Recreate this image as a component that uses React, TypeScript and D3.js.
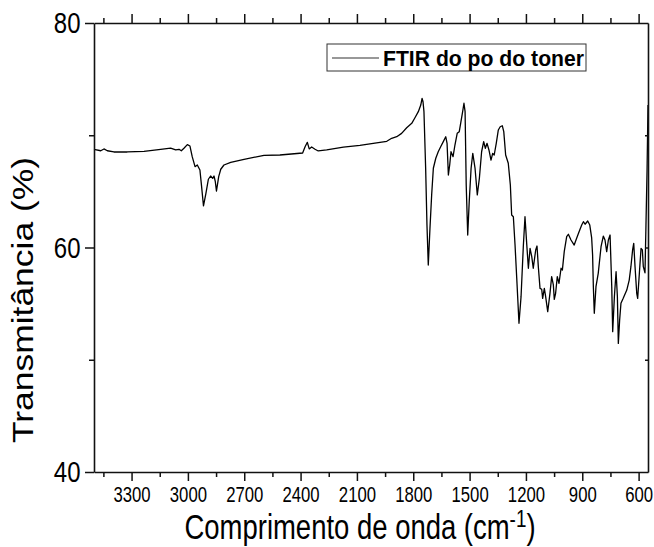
import * as d3 from "d3";
import { useEffect, useRef } from "react";

// wavenumber (cm-1) and transmittance (%)
const wavenumber = [
  3500, 3464, 3447, 3429, 3394, 3323, 3234, 3145, 3092, 3065, 3047, 3035, 3021, 3003, 2989, 2977, 2962, 2950, 2936, 2927,
  2917, 2904, 2891, 2879, 2868, 2861, 2854, 2848, 2836, 2825, 2808, 2772, 2701, 2595, 2510, 2389, 2376, 2364, 2354, 2341,
  2323, 2306, 2261, 2172, 2084, 2013, 1941, 1915, 1888, 1862, 1835, 1808, 1791, 1773, 1760, 1753, 1748, 1743, 1734, 1727,
  1720, 1711, 1702, 1693, 1680, 1667, 1654, 1640, 1627, 1620, 1613, 1606, 1599, 1588, 1578, 1566, 1555, 1546, 1537, 1530,
  1524, 1518, 1510, 1502, 1492, 1483, 1471, 1459, 1448, 1436, 1425, 1416, 1407, 1397, 1386, 1377, 1369, 1358, 1347, 1337,
  1326, 1318, 1308, 1294, 1283, 1276, 1267, 1258, 1249, 1237, 1226, 1214, 1205, 1196, 1187, 1178, 1169, 1161, 1148, 1141,
  1134, 1125, 1116, 1111, 1102, 1095, 1084, 1072, 1063, 1054, 1049, 1042, 1033, 1024, 1013, 1006, 996, 983, 974, 960,
  943, 930, 917, 903, 894, 885, 871, 860, 850, 845, 841, 836, 827, 815, 800, 788, 779, 770, 761, 752,
  743, 738, 729, 720, 713, 708, 701, 694, 682, 663, 650, 641, 632, 626, 619, 610, 605, 596, 587, 580, 575, 566, 561, 555, 550,
];

const transmittance = [
  68.75, 68.62, 68.78, 68.62, 68.51, 68.51, 68.57, 68.75, 68.86, 68.69, 68.75, 68.62, 68.84, 69.16, 69.04, 68.09, 67.2, 67.35, 66.9, 65.42,
  63.7, 64.83, 66.08, 66.37, 66.16, 66.37, 65.86, 65.03, 66.31, 66.97, 67.35, 67.59, 67.86, 68.21, 68.24, 68.42, 68.98, 69.37, 68.78, 68.95,
  68.75, 68.6, 68.69, 68.95, 69.1, 69.28, 69.46, 69.73, 69.87, 70.17, 70.67, 71.06, 71.56, 72.1, 72.69, 73.29, 72.99, 72.1, 67.06, 62.0,
  58.44, 61.71, 64.68, 67.06, 67.95, 68.53, 68.98, 69.43, 69.87, 69.28, 66.46, 67.35, 68.53, 68.09, 69.13, 70.17, 70.32, 71.21, 72.1, 72.85,
  72.1, 65.57, 61.11, 64.08, 67.06, 68.39, 67.06, 64.68, 66.16, 68.53, 69.43, 68.84, 69.28, 68.69, 67.79, 68.39, 68.24, 69.28, 70.47, 70.76,
  70.85, 70.32, 68.24, 67.5, 65.57, 62.89, 62.74, 60.22, 57.28, 53.25, 55.62, 60.07, 62.74, 60.37, 58.15, 59.93, 59.18, 58.15, 59.78, 60.13,
  58.29, 56.36, 56.28, 55.47, 56.36, 55.62, 54.28, 55.92, 57.4, 56.66, 55.38, 55.92, 57.4, 56.81, 58.15, 57.99, 59.63, 60.96, 61.18, 60.67,
  60.22, 60.82, 61.41, 62.0, 62.3, 62.07, 62.36, 62.0, 60.85, 59.33, 56.51, 54.14, 56.51, 57.7, 60.07, 61.02, 60.67, 59.63, 60.67, 61.11,
  56.51, 52.5, 55.62, 57.84, 55.62, 51.46, 53.54, 55.03, 55.47, 56.21, 57.1, 58.29, 59.78, 60.37, 58.29, 55.92, 55.47, 57.7, 59.93, 59.78, 58.29, 57.75, 61.85, 66.9, 72.69,
];

const xMajor = [3300, 3000, 2700, 2400, 2100, 1800, 1500, 1200, 900, 600];
const xMinor = [3450, 3150, 2850, 2550, 2250, 1950, 1650, 1350, 1050, 750];
const yMajor = [40, 60, 80];
const yMinor = [50, 70];

const seriesName = "FTIR do po do toner";

const width = 654;
const height = 547;
const left = 94;
const right = 648;
const top = 23;
const bottom = 472;
const font = "'Liberation Sans', Arial, sans-serif";

export default function App() {
  const ref = useRef<SVGSVGElement>(null);

  const x = d3.scaleLinear([3500, 550], [left, right]);
  const y = d3.scaleLinear([40, 80], [bottom, top]);

  const points = d3.zip(wavenumber, transmittance) as [number, number][];
  const line = d3.line<[number, number]>().x((d) => x(d[0])).y((d) => y(d[1]));

  useEffect(() => {
    const svg = d3.select(ref.current);
    svg.selectAll(".axis").remove();

    const style = (g: any) => {
      g.selectAll("path.domain").attr("stroke", "#111").attr("stroke-width", 1.6);
      g.selectAll(".tick line").attr("stroke", "#111").attr("stroke-width", 1.5);
    };

    // bottom
    const gb = svg.append("g").attr("class", "axis").attr("transform", `translate(0,${bottom})`);
    gb.call(d3.axisBottom(x).tickValues(xMajor).tickSize(9).tickSizeOuter(0).tickPadding(5.5).tickFormat(d3.format("d")));
    gb.append("g").call(d3.axisBottom(x).tickValues(xMinor).tickSize(5).tickFormat(() => "")).select(".domain").remove();
    style(gb);
    gb.selectAll("text")
      .attr("font-family", font)
      .attr("font-size", 22)
      .attr("fill", "#000")
      .attr("transform", "scale(0.76,1)");

    // top
    const gt = svg.append("g").attr("class", "axis").attr("transform", `translate(0,${top})`);
    gt.call(d3.axisTop(x).tickValues(xMajor).tickSize(9).tickSizeOuter(0).tickFormat(() => ""));
    gt.append("g").call(d3.axisTop(x).tickValues(xMinor).tickSize(5).tickFormat(() => "")).select(".domain").remove();
    style(gt);

    // left
    const gl = svg.append("g").attr("class", "axis").attr("transform", `translate(${left},0)`);
    gl.call(d3.axisLeft(y).tickValues(yMajor).tickSize(9).tickSizeOuter(0).tickFormat(d3.format("d")));
    gl.append("g").call(d3.axisLeft(y).tickValues(yMinor).tickSize(5).tickFormat(() => "")).select(".domain").remove();
    style(gl);
    gl.selectAll("text")
      .attr("font-family", font)
      .attr("font-size", 30)
      .attr("fill", "#000")
      .attr("x", -13.5 / 0.8)
      .attr("transform", "scale(0.8,1)");

    // right, ticks inside
    const gr = svg.append("g").attr("class", "axis").attr("transform", `translate(${right},0)`);
    gr.call(d3.axisRight(y).tickValues([50, 60, 70]).tickSize(-3).tickSizeOuter(0).tickFormat(() => ""));
    style(gr);
  }, []);

  return (
    <svg ref={ref} width={width} height={height} style={{ display: "block", position: "absolute", left: 0, top: 0 }}>
      <rect width={width} height={height} fill="#fff" />
      <path d={line(points) ?? ""} fill="none" stroke="#000" strokeWidth={1.3} strokeLinejoin="round" />

      {/* legend */}
      <rect x={327} y={44} width={259} height={27} fill="#fff" stroke="#333" strokeWidth={1} />
      <line x1={332} x2={379} y1={58} y2={58} stroke="#333" strokeWidth={1.2} />
      <text x={383} y={65.5} fontFamily={font} fontWeight="bold" fontSize={21.5} textLength={201} lengthAdjust="spacingAndGlyphs">
        {seriesName}
      </text>

      {/* axis titles */}
      <text
        transform={`translate(33,300) rotate(-90) scale(1,0.8)`}
        textAnchor="middle"
        fontFamily={font}
        fontSize={36}
        textLength={286}
        lengthAdjust="spacingAndGlyphs"
      >
        Transmitância (%)
      </text>
      <text transform={`translate(360,539) scale(0.785,1)`} textAnchor="middle" fontFamily={font} fontSize={35}>
        Comprimento de onda (cm
        <tspan fontSize={24} dy={-12}>-1</tspan>
        <tspan dy={12}>)</tspan>
      </text>
    </svg>
  );
}
